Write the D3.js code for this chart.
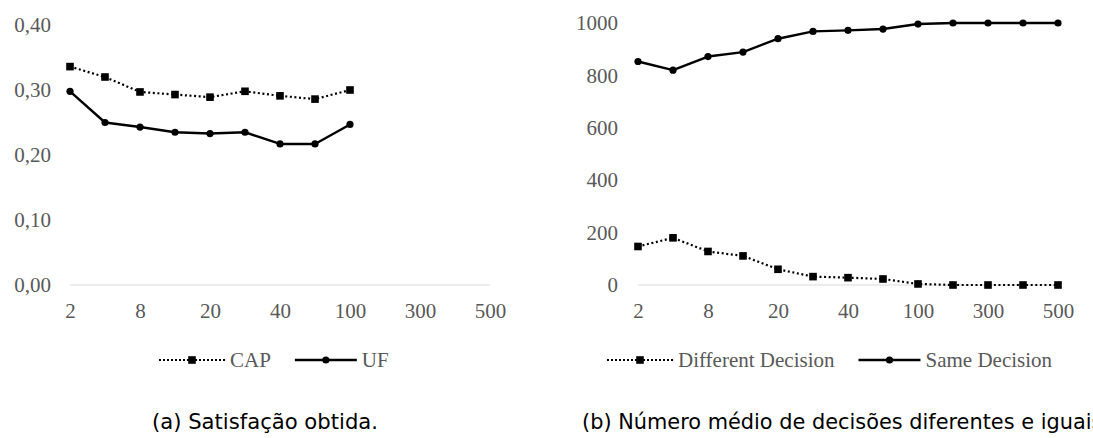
<!DOCTYPE html>
<meta charset="utf-8">
<style>
body { margin: 0; background: #fff; }
svg { display: block; }
.tick text { fill: #595959; font-family: "Liberation Serif", "Times New Roman", serif; font-size: 21px; }
.legend text { fill: #595959; font-family: "Liberation Serif", "Times New Roman", serif; font-size: 21px; }
.caption { fill: #000; font-family: "DejaVu Sans", sans-serif; font-size: 21px; }
</style>
<svg width="1093" height="438"></svg>
<script src="https://cdnjs.cloudflare.com/ajax/libs/d3/7.8.5/d3.min.js"></script>
<script>
"use strict";

// categories (only every other one gets a label)
var categories = ["2", "4", "8", "10", "20", "30", "40", "50", "100", "200", "300", "400", "500"];
var tickLabels = ["2", "8", "20", "40", "100", "300", "500"];

// (a) satisfaction
var capValues = [0.336, 0.320, 0.297, 0.293, 0.289, 0.298, 0.291, 0.286, 0.300];
var ufValues  = [0.298, 0.250, 0.243, 0.235, 0.233, 0.235, 0.217, 0.217, 0.247];
var satTicks = [0, 0.1, 0.2, 0.3, 0.4];

// (b) decisions
var diffValues = [147, 180, 128, 111, 60, 32, 28, 23, 4, 0, 0, 0, 0];
var sameValues = [853, 820, 872, 889, 940, 968, 972, 977, 996, 1000, 1000, 1000, 1000];
var decTicks = [0, 200, 400, 600, 800, 1000];

var svg = d3.select("svg");

var ptBR = d3.formatLocale({decimal: ",", thousands: ".", grouping: [3], currency: ["R$", ""]});

function series(vals) {
  return vals.map(function(v, i) { return {c: categories[i], v: v}; });
}

function drawChart(opt) {
  var g = svg.append("g");

  var x = d3.scalePoint().domain(categories).range([opt.x0, opt.x1]);
  var y = d3.scaleLinear().domain(opt.yDomain).range([285, opt.yTop]);

  // y axis labels, no line
  var ya = g.append("g")
    .attr("transform", "translate(" + opt.labelX + ",0)")
    .call(d3.axisLeft(y).tickValues(opt.yTicks).tickSize(0).tickPadding(0).tickFormat(opt.fmt));
  ya.select(".domain").remove();

  // baseline
  g.append("line")
    .attr("x1", opt.x0).attr("x2", opt.x1)
    .attr("y1", y(0)).attr("y2", y(0))
    .attr("stroke", "#d9d9d9").attr("stroke-width", 1.2);

  // x axis labels
  var xa = g.append("g")
    .attr("transform", "translate(0," + 303 + ")")
    .call(d3.axisBottom(x).tickValues(tickLabels).tickSize(0).tickPadding(0));
  xa.select(".domain").remove();
  xa.selectAll("text").attr("dy", "0.71em");

  var line = d3.line().x(function(d) { return x(d.c); }).y(function(d) { return y(d.v); });

  // dotted series with squares
  var s1 = series(opt.dotted);
  g.append("path").datum(s1)
    .attr("fill", "none").attr("stroke", "#000").attr("stroke-width", 2.2)
    .attr("stroke-dasharray", "2,2.6")
    .attr("d", line);
  g.selectAll(".sq").data(s1).enter().append("rect")
    .attr("x", function(d) { return x(d.c) - 3.8; })
    .attr("y", function(d) { return y(d.v) - 3.8; })
    .attr("width", 7.6).attr("height", 7.6)
    .attr("fill", "#000");

  // solid series with dots
  var s2 = series(opt.solid);
  g.append("path").datum(s2)
    .attr("fill", "none").attr("stroke", "#000").attr("stroke-width", 2.4)
    .attr("stroke-linejoin", "round")
    .attr("d", line);
  g.selectAll(".dot").data(s2).enter().append("circle")
    .attr("cx", function(d) { return x(d.c); })
    .attr("cy", function(d) { return y(d.v); })
    .attr("r", 3.6)
    .attr("fill", "#000");

  // legend
  var lg = g.append("g").attr("class", "legend").attr("transform", "translate(0,360)");
  var lx = opt.legendX;
  lg.append("line").attr("x1", lx).attr("x2", lx + 66).attr("y1", 0).attr("y2", 0)
    .attr("stroke", "#000").attr("stroke-width", 2).attr("stroke-dasharray", "2,2");
  lg.append("rect").attr("x", lx + 33 - 3.8).attr("y", -3.8).attr("width", 7.6).attr("height", 7.6).attr("fill", "#000");
  var t1 = lg.append("text").attr("x", lx + 71).attr("y", 7).text(opt.names[0]);
  var w1 = t1.node().getComputedTextLength();
  var lx2 = lx + 71 + w1 + 24;
  lg.append("line").attr("x1", lx2).attr("x2", lx2 + 62).attr("y1", 0).attr("y2", 0)
    .attr("stroke", "#000").attr("stroke-width", 2.4);
  lg.append("circle").attr("cx", lx2 + 31).attr("cy", 0).attr("r", 3.6).attr("fill", "#000");
  lg.append("text").attr("x", lx2 + 67).attr("y", 7).text(opt.names[1]);

  // caption (the LaTeX font is a little wider than DejaVu, so stretch it)
  g.append("text").attr("class", "caption")
    .attr("x", opt.capX).attr("y", 429)
    .attr("textLength", opt.capW).attr("lengthAdjust", "spacingAndGlyphs")
    .text(opt.caption);
}

drawChart({
  x0: 70, x1: 490, yTop: 25, yDomain: [0, 0.4], yTicks: satTicks, labelX: 51,
  fmt: ptBR.format(".2f"),
  dotted: capValues, solid: ufValues, names: ["CAP", "UF"],
  legendX: 159, capX: 152, capW: 226, caption: "(a) Satisfação obtida."
});

drawChart({
  x0: 638, x1: 1058, yTop: 23, yDomain: [0, 1000], yTicks: decTicks, labelX: 618,
  fmt: d3.format("d"),
  dotted: diffValues, solid: sameValues, names: ["Different Decision", "Same Decision"],
  legendX: 607, capX: 582, capW: 527, caption: "(b) Número médio de decisões diferentes e iguais."
});
</script>
